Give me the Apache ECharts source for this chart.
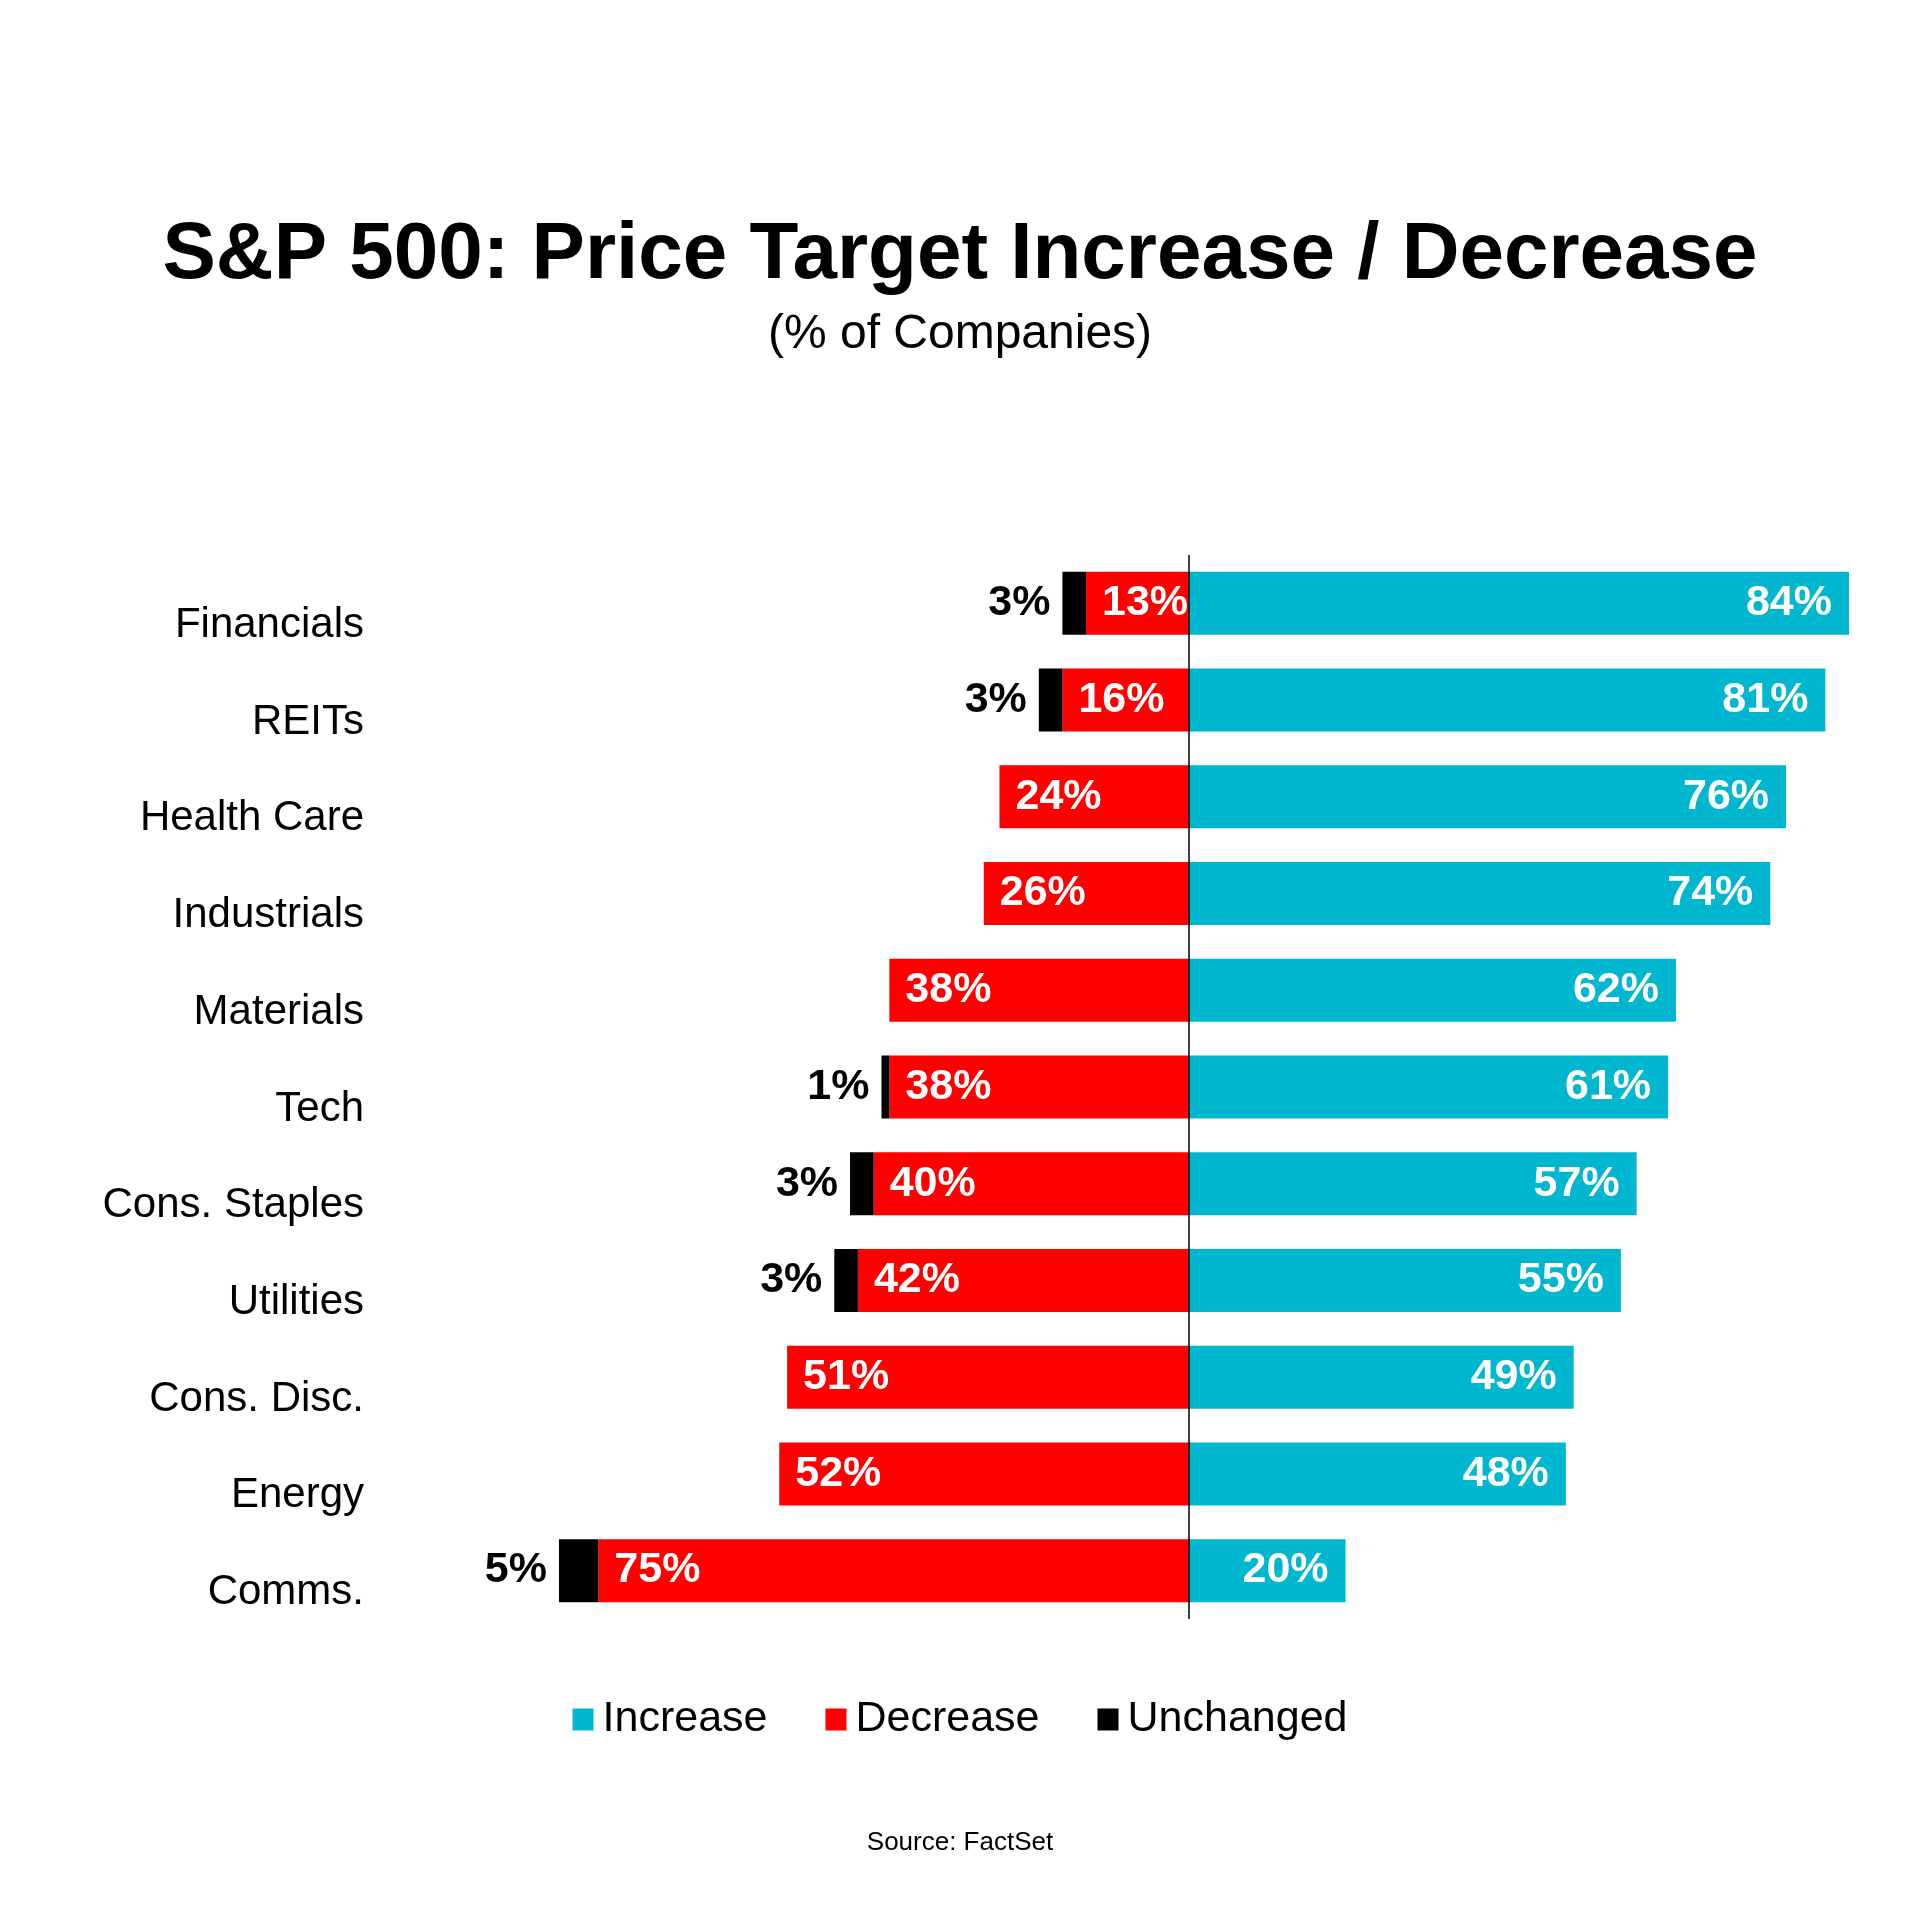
<!DOCTYPE html>
<html>
<head>
<meta charset="utf-8">
<script src="https://cdn.jsdelivr.net/npm/echarts@6/dist/echarts.min.js"></script>
<style>
  html, body { margin: 0; padding: 0; background: #fff; }
  #chart { width: 1920px; height: 1920px; }
</style>
</head>
<body>
<div id="chart"></div>
<script>
const categories = ['Financials', 'REITs', 'Health Care', 'Industrials', 'Materials', 'Tech',
  'Cons. Staples', 'Utilities', 'Cons. Disc.', 'Energy', 'Comms.'];
const increase  = [84, 81, 76, 74, 62, 61, 57, 55, 49, 48, 20];
const decrease  = [13, 16, 24, 26, 38, 38, 40, 42, 51, 52, 75];
const unchanged = [3, 3, 0, 0, 0, 1, 3, 3, 0, 0, 5];

const FONT = "'Liberation Sans', Arial, sans-serif";
const chart = echarts.init(document.getElementById('chart'));

const valueLabel = {
  show: true,
  fontFamily: FONT,
  fontSize: 43,
  fontWeight: 'bold',
  color: '#fff'
};

chart.setOption({
  animation: false,
  backgroundColor: '#fff',
  title: [
    {
      text: 'S&P 500: Price Target Increase / Decrease',
      left: 'center', top: 211,
      textStyle: { fontFamily: FONT, fontSize: 80, fontWeight: 'bold', color: '#000' }
    },
    {
      text: '(% of Companies)',
      left: 'center', top: 306,
      textStyle: { fontFamily: FONT, fontSize: 48, fontWeight: 'normal', color: '#000' }
    },
    {
      text: 'Source: FactSet',
      left: 'center', top: 1825,
      textStyle: { fontFamily: FONT, fontSize: 26, fontWeight: 'normal', color: '#000' }
    }
  ],
  legend: {
    data: ['Increase', 'Decrease', 'Unchanged'],
    left: 'center',
    top: 1693,
    icon: 'rect',
    itemWidth: 21,
    itemHeight: 22,
    itemGap: 58,
    textStyle: { fontFamily: FONT, fontSize: 43, color: '#000', padding: [0, 0, 0, 4] }
  },
  grid: { left: 559, right: 71, top: 555, bottom: 301, containLabel: false },
  xAxis: {
    type: 'value', min: -80, max: 84, show: false,
    splitLine: { show: false }
  },
  yAxis: {
    type: 'category',
    data: categories,
    inverse: true,
    axisLine: { show: false },
    axisTick: { show: false },
    axisLabel: {
      fontFamily: FONT, fontSize: 42, color: '#000',
      margin: 195, verticalAlign: 'top', lineHeight: 44
    }
  },
  series: [
    {
      name: 'Increase', type: 'bar', stack: 'total', barWidth: 63,
      itemStyle: { color: '#00B7CF' },
      data: increase,
      label: Object.assign({}, valueLabel, {
        position: 'insideRight', distance: 17,
        formatter: p => p.value + '%'
      }),
      markLine: {
        silent: true, symbol: ['none', 'none'],
        label: { show: false },
        lineStyle: { color: '#000', width: 1.5, type: 'solid' },
        data: [{ xAxis: 0 }]
      },
      z: 2
    },
    {
      name: 'Decrease', type: 'bar', stack: 'total', barWidth: 63,
      itemStyle: { color: '#FF0000' },
      data: decrease.map(v => -v),
      label: Object.assign({}, valueLabel, {
        position: 'insideLeft', distance: 16,
        formatter: p => Math.abs(p.value) + '%'
      }),
      z: 2
    },
    {
      name: 'Unchanged', type: 'bar', stack: 'total', barWidth: 63,
      itemStyle: { color: '#000000' },
      data: unchanged.map(v => -v),
      label: Object.assign({}, valueLabel, {
        position: 'left', distance: 12, color: '#000',
        formatter: p => (p.value === 0 ? '' : Math.abs(p.value) + '%')
      }),
      z: 2
    }
  ]
});
</script>
</body>
</html>
